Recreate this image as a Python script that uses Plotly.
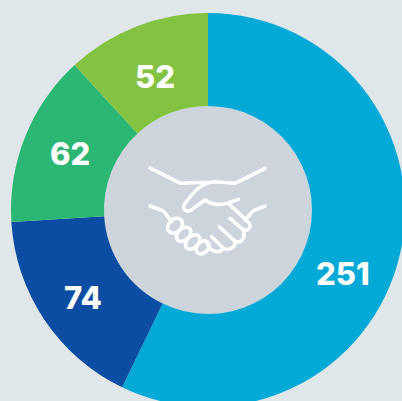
import re
import plotly.graph_objects as go

values = [251, 74, 62, 52]
colors = ["#00A9D6", "#0B4DA2", "#2BB673", "#84C341"]
label_px = [(343, 273), (83, 297), (70, 153), (155, 76)]
BG = "#E0E7EA"
HOLE = "#CDD4DB"
W, H = 416, 420
CX, CY, R, r = 208, 210, 197, 104


def zpath(s):
    """Icon path given in 3x-zoom coordinates of the crop at (130,140) -> paper coords."""
    def rep(m):
        x = 130 + float(m.group(1)) / 3
        y = 140 + float(m.group(2)) / 3
        return f"{x / W:.5f},{1 - y / H:.5f}"
    return re.sub(r"(-?[\d.]+)[ ,](-?[\d.]+)", rep, s)


icon = [
    "M60,84 L152,130 L230,127",
    "M405,85 L315,130 L255,125 C215,128 195,150 163,193 C155,212 177,220 190,205 L225,180 C245,195 270,195 290,190 L325,178",
    "M295,190 L358,250 C366,268 348,276 336,266 L300,235",
    "M336,266 C350,285 338,312 315,304 L268,260",
    "M315,304 C318,322 298,332 280,325 L245,290",
    "M280,325 C270,340 250,338 238,322 L232,312",
    "M60,198 L100,213 L125,245",
    "M405,198 L370,212 L345,240",
]


def oval(cx, cy, a, b):
    # tilted capsule oval, major axis running up-right
    ux, uy = 0.707 * a, -0.707 * a
    vx, vy = 0.707 * b, 0.707 * b
    k = 0.5523
    pt = lambda s, t: f"{cx + s * ux + t * vx:.1f},{cy + s * uy + t * vy:.1f}"
    return (f"M{pt(1, 0)} C{pt(1, k)} {pt(k, 1)} {pt(0, 1)} C{pt(-k, 1)} {pt(-1, k)} {pt(-1, 0)} "
            f"C{pt(-1, -k)} {pt(-k, -1)} {pt(0, -1)} C{pt(k, -1)} {pt(1, -k)} {pt(1, 0)} Z")


icon += [oval(135, 257, 25, 19), oval(161, 283, 25, 17), oval(188, 306, 25, 17), oval(218, 322, 22, 17)]

shapes = [dict(type="circle", xref="paper", yref="paper", layer="below",
               x0=(CX - r) / W, x1=(CX + r) / W, y0=1 - (CY + r) / H, y1=1 - (CY - r) / H,
               fillcolor=HOLE, line_width=0)]
shapes += [dict(type="path", xref="paper", yref="paper", path=zpath(p), layer="above",
                line=dict(color="white", width=3.5), fillcolor="rgba(0,0,0,0)") for p in icon]

annotations = [dict(x=x / W, y=1 - y / H, xref="paper", yref="paper", text=str(v),
                    showarrow=False, xanchor="center", yanchor="middle",
                    font=dict(family="Inter", size=31, color="white", weight=800))
               for v, (x, y) in zip(values, label_px)]

fig = go.Figure(go.Pie(values=values, sort=False, direction="clockwise", rotation=0,
                       hole=r / R, textinfo="none", hoverinfo="skip", showlegend=False,
                       marker=dict(colors=colors, line=dict(width=0)),
                       domain=dict(x=[0, 1], y=[1 - (CY + R) / H, 1 - (CY - R) / H])))
fig.update_layout(width=W, height=H, margin=dict(l=0, r=0, t=0, b=0),
                  paper_bgcolor=BG, plot_bgcolor=BG, shapes=shapes, annotations=annotations,
                  showlegend=False)

post = """
var st=document.createElement('style');
st.textContent="html,body{margin:0;padding:0;overflow:hidden;background:%s}.shapelayer path{stroke-linecap:round;stroke-linejoin:round}";
document.head.appendChild(st);
""" % BG
fig.write_html("out.html", post_script=post, config={"displayModeBar": False})
